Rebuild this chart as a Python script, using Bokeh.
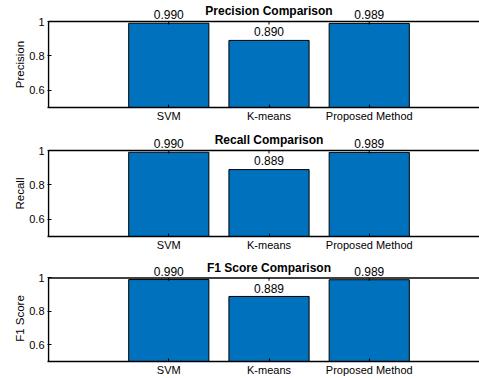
from bokeh.plotting import figure
from bokeh.layouts import column
from bokeh.models import ColumnDataSource, FixedTicker, Range1d, Title
from bokeh.core.properties import value
from bokeh.embed import file_html
from bokeh.resources import INLINE

methods = ["SVM", "K-means", "Proposed Method"]
positions = [1, 2, 3]
precision = [0.990, 0.890, 0.989]
recall = [0.990, 0.889, 0.989]
f1_score = [0.990, 0.889, 0.989]

panels = [
    ("Precision", "Precision Comparison", precision),
    ("Recall", "Recall Comparison", recall),
    ("F1 Score", "F1 Score Comparison", f1_score),
]

FONT = "Liberation Sans"
BAR_COLOR = "#0072BD"
Y_LO, Y_HI = 0.5, 1.0          # visible box of each panel
X_LO, X_HI = -0.2, 4.1
PX_PER_UNIT = 172.0             # vertical scale of each panel
LABEL_SIZE = 11.5

# rough Arial/Liberation advance widths (per 1000 em) for centring the y labels
_W = {"P": 667, "r": 333, "e": 556, "c": 500, "i": 222, "s": 500, "o": 556,
      "n": 556, "R": 722, "a": 556, "l": 222, "F": 611, "1": 556, " ": 278,
      "S": 667}


def text_width(s, size):
    return sum(_W.get(ch, 556) for ch in s) / 1000.0 * size


# (figure height, border below frame); the frame reaches the figure top so
# titles and value labels can sit above the box
heights = [(128, 21), (128, 20), (122, 14)]

figs = []
for (ylabel, title, vals), (h, bot) in zip(panels, heights):
    frame_h = h - bot
    y_top = Y_LO + frame_h / PX_PER_UNIT
    p = figure(width=479, height=h, output_backend="svg", toolbar_location=None,
               x_range=Range1d(X_LO - 0.01, X_HI), y_range=Range1d(Y_LO, y_top),
               min_border_left=47, min_border_right=0,
               min_border_top=0, min_border_bottom=bot)
    p.outline_line_color = None
    p.grid.visible = False
    p.background_fill_color = "white"
    p.border_fill_color = "white"

    src = ColumnDataSource(dict(
        x=positions, top=vals,
        ytext=[v + 0.05 for v in vals],
        txt=[f"{v:.3f}" for v in vals]))

    p.vbar(x="x", top="top", bottom=0, width=0.8, source=src,
           fill_color=BAR_COLOR, line_color="black", line_width=1)

    # box: left and top edges, with inward ticks on the top edge
    p.segment(x0=[X_LO, X_LO], y0=[Y_LO, Y_HI], x1=[X_LO, X_HI], y1=[Y_HI, Y_HI],
              line_color="black", line_width=1.5)
    tick_len = 3 / PX_PER_UNIT
    p.segment(x0=positions, y0=[Y_HI] * 3, x1=positions,
              y1=[Y_HI - tick_len] * 3, line_color="black", line_width=1)

    # value labels
    p.text(x="x", y="ytext", text="txt", source=src, text_align="center",
           text_baseline="alphabetic", text_font=value(FONT),
           text_font_size="12px", text_color="black")

    # panel title
    p.text(x=[(X_LO + 4.2) / 2], y=[Y_HI + 0.062], text=[title],
           text_align="center", text_baseline="alphabetic",
           text_font=value(FONT), text_font_size="12px",
           text_font_style="bold", text_color="black")

    # y axis
    ya = p.yaxis[0]
    ya.ticker = FixedTicker(ticks=[0.6, 0.8, 1.0])
    ya.major_label_overrides = {0.6: "0.6", 0.8: "0.8", 1.0: "1"}
    ya.major_label_text_font = FONT
    ya.major_label_text_font_size = "11px"
    ya.major_label_text_color = "black"
    ya.major_label_standoff = 3
    ya.major_tick_in = 4
    ya.major_tick_out = 0
    ya.major_tick_line_width = 1
    ya.major_tick_line_color = "black"
    ya.minor_tick_line_color = None
    ya.axis_line_color = None

    # y axis title, centred on the visible box rather than on the frame
    box_h = (Y_HI - Y_LO) * PX_PER_UNIT
    off = box_h / 2 - text_width(ylabel, LABEL_SIZE) / 2
    p.add_layout(Title(text=ylabel, align="left", vertical_align="middle",
                       offset=off, standoff=0, text_font=FONT,
                       text_font_size=f"{LABEL_SIZE}px",
                       text_font_style="normal", text_color="black"), "left")

    # x axis with method names
    xa = p.xaxis[0]
    xa.ticker = FixedTicker(ticks=positions)
    xa.major_label_overrides = {k: m for k, m in zip(positions, methods)}
    xa.major_label_text_font = FONT
    xa.major_label_text_font_size = "11px"
    xa.major_label_text_color = "black"
    xa.major_label_standoff = 2
    xa.major_tick_in = 3
    xa.major_tick_out = 0
    xa.major_tick_line_color = "black"
    xa.minor_tick_line_color = None
    xa.axis_line_color = "black"
    xa.axis_line_width = 1.5

    figs.append(p)

layout = column(*figs, spacing=0)
open("out.html", "w").write(file_html(layout, INLINE))
